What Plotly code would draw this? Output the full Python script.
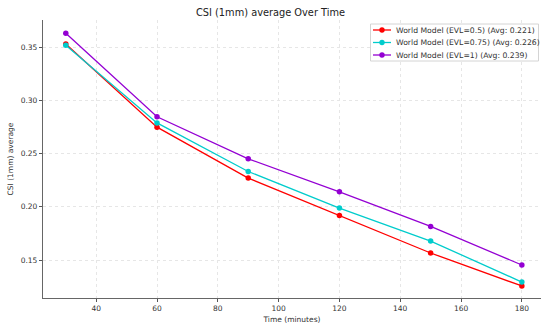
import plotly.graph_objects as go

time_minutes = [30, 60, 90, 120, 150, 180]
csi_evl_05 = [0.3531, 0.2749, 0.2270, 0.1919, 0.1566, 0.1256]
csi_evl_075 = [0.3519, 0.2789, 0.2332, 0.1988, 0.1678, 0.1293]
csi_evl_1 = [0.3631, 0.2846, 0.2451, 0.2141, 0.1816, 0.1453]
series_names = [
    "World Model (EVL=0.5) (Avg: 0.221)",
    "World Model (EVL=0.75) (Avg: 0.226)",
    "World Model (EVL=1) (Avg: 0.239)",
]
series_colors = ["#ff0000", "#00cccc", "#9400d3"]
x_ticks = [40, 60, 80, 100, 120, 140, 160, 180]
y_ticks = [0.15, 0.20, 0.25, 0.30, 0.35]

W, H = 541, 330
ML, MR, MT, MB = 43, 0, 20, 32
PW, PH = W - ML - MR, H - MT - MB


def px(xp):
    return (xp - ML) / PW


def py(yp):
    return 1 - (yp - MT) / PH


font = "DejaVu Sans"
fig = go.Figure()
for name, vals, col in zip(series_names, [csi_evl_05, csi_evl_075, csi_evl_1], series_colors):
    fig.add_trace(go.Scatter(
        x=time_minutes, y=vals, mode="lines+markers", name=name,
        line=dict(color=col, width=1.3),
        marker=dict(color=col, size=5.5),
        showlegend=False,
    ))

# Compact matplotlib-style legend
shapes = [dict(type="rect", xref="paper", yref="paper",
               x0=px(370.5), x1=px(538.5), y0=py(61), y1=py(24),
               line=dict(color="#d4d4d4", width=1), fillcolor="rgba(255,255,255,0.85)",
               layer="above")]
annotations = []
row_y = [30, 42.5, 55]
for name, col, ry in zip(series_names, series_colors, row_y):
    shapes.append(dict(type="line", xref="paper", yref="paper",
                       x0=px(373), x1=px(391), y0=py(ry), y1=py(ry),
                       line=dict(color=col, width=1.3), layer="above"))
    shapes.append(dict(type="circle", xref="paper", yref="paper",
                       x0=px(379.3), x1=px(384.7), y0=py(ry + 2.7), y1=py(ry - 2.7),
                       line=dict(color=col, width=0), fillcolor=col, layer="above"))
    annotations.append(dict(text=name, xref="paper", yref="paper", x=px(396), y=py(ry),
                            xanchor="left", yanchor="middle", showarrow=False,
                            borderpad=0, borderwidth=0,
                            font=dict(family=font, size=7.7, color="#333333")))

fig.update_layout(
    width=W, height=H,
    margin=dict(l=ML, r=MR, t=MT, b=MB),
    paper_bgcolor="white", plot_bgcolor="white",
    font=dict(family=font, size=7.5, color="#333333"),
    title=dict(text="CSI (1mm) average Over Time", x=0.5, xanchor="center",
               y=1 - 13 / H, yanchor="middle",
               font=dict(family=font, size=9.8, color="#222222")),
    showlegend=False,
    shapes=shapes,
    annotations=annotations,
    xaxis=dict(range=[22.5, 186.3], tickvals=x_ticks, ticks="outside", ticklen=3,
               tickcolor="#555555", showline=True, linecolor="#666666", linewidth=1.2,
               showgrid=True, gridcolor="#e6e6e6", griddash="dot", gridwidth=0.8,
               zeroline=False, mirror=False,
               title=dict(text="Time (minutes)", standoff=4, font=dict(family=font, size=7.5))),
    yaxis=dict(range=[0.1143, 0.3756], tickvals=y_ticks, tickformat=".2f", ticks="outside",
               ticklen=3, tickcolor="#555555", showline=True, linecolor="#666666", linewidth=1.2,
               showgrid=True, gridcolor="#e6e6e6", griddash="dot", gridwidth=0.8,
               zeroline=False,
               title=dict(text="CSI (1mm) average", standoff=6, font=dict(family=font, size=7.5))),
)

fig.write_html("out.html")
